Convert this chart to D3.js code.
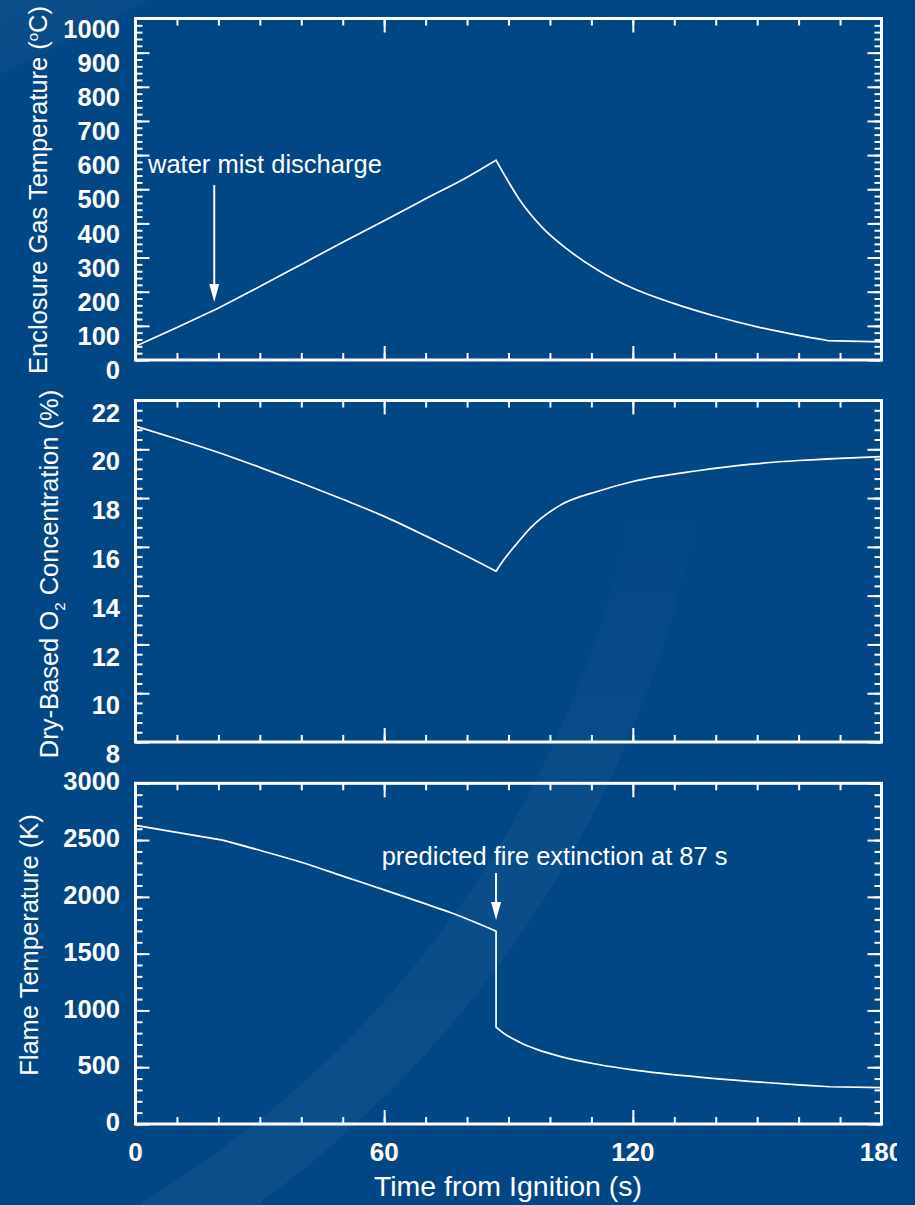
<!DOCTYPE html>
<html>
<head>
<meta charset="utf-8">
<script src="https://cdn.jsdelivr.net/npm/d3@7"></script>
<style>
  html, body { margin: 0; padding: 0; background: #024785; }
  svg { display: block; }
  text { font-family: "Liberation Sans", Arial, Helvetica, sans-serif; fill: #fff; }
</style>
</head>
<body>
<svg id="chart" width="915" height="1205"></svg>
<script>
// ---- Time axis (s) ----
const timeDomain = [0, 180];
const timeLabels = [0, 60, 120, 180];
const timeMinorTicks = d3.range(0, 181, 10);

// ---- Enclosure gas temperature (°C) ----
const gasTime = [0, 10, 20, 30, 40, 50, 60, 70, 80, 87, 89.6, 92.8, 98, 104, 112, 120, 130, 140, 150, 160, 167, 180];
const gasTemp = [40, 95, 152, 215, 280, 345, 408, 472, 535, 585, 530, 467, 390, 326, 260, 210, 165, 128, 97, 72, 57, 53];
const gasCorners = [2, 9, 20];          // indices where the curve changes abruptly
const gasTickLabels = [0, 100, 200, 300, 400, 500, 600, 700, 800, 900, 1000];

// ---- Dry-based O2 concentration (%) ----
const o2Time = [0, 10, 20, 30, 40, 50, 60, 70, 76, 87, 89, 91.6, 95.2, 102.4, 112, 120, 136, 148, 160, 170, 180];
const o2Conc = [20.95, 20.42, 19.87, 19.26, 18.62, 17.95, 17.25, 16.45, 15.95, 15.0, 15.5, 16.05, 16.76, 17.7, 18.3, 18.68, 19.13, 19.38, 19.54, 19.63, 19.7];
const o2Corners = [9];
const o2TickLabels = [8, 10, 12, 14, 16, 18, 20, 22];

// ---- Flame temperature (K) ----
const flameTime = [0, 21, 30, 40, 50, 60, 70, 76, 87, 87, 89, 92.8, 97, 102.4, 112, 120, 136, 148, 160, 167.5, 180];
const flameTemp = [2630, 2500, 2410, 2305, 2183, 2062, 1938, 1862, 1698, 853, 795, 718, 655, 596, 522, 477, 413, 376, 345, 328, 320];
const flameCorners = [1, 8, 9, 19];
const flameTickLabels = [0, 500, 1000, 1500, 2000, 2500, 3000];

// ---- Annotations ----
const mistTime = 19;
const mistText = "water mist discharge";
const extinctionTime = 87;
const extinctionText = "predicted fire extinction at " + extinctionTime + " s";

const svg = d3.select("#chart");
const W = 915, H = 1205;
const left = 135.5, right = 881.5;

const defs = svg.append("defs");
defs.append("clipPath").attr("id", "page-clip")
  .append("rect").attr("x", 0).attr("y", 0).attr("width", 897).attr("height", H);

// swoosh fades out towards the top of the page
const fade = defs.append("linearGradient").attr("id", "swoosh-fade")
  .attr("gradientUnits", "userSpaceOnUse")
  .attr("x1", 0).attr("y1", 1205).attr("x2", 0).attr("y2", 500);
fade.append("stop").attr("offset", 0).attr("stop-color", "#fff").attr("stop-opacity", 0.04);
fade.append("stop").attr("offset", 0.6).attr("stop-color", "#fff").attr("stop-opacity", 0.03);
fade.append("stop").attr("offset", 1).attr("stop-color", "#fff").attr("stop-opacity", 0);

const corner = defs.append("linearGradient").attr("id", "corner-fade")
  .attr("x1", 0).attr("y1", 0).attr("x2", 1).attr("y2", 1);
corner.append("stop").attr("offset", 0).attr("stop-color", "#fff").attr("stop-opacity", 0.04);
corner.append("stop").attr("offset", 1).attr("stop-color", "#fff").attr("stop-opacity", 0);

// background and faint decorative sheen
svg.append("rect").attr("width", W).attr("height", H).attr("fill", "#024785");
svg.append("path")
  .attr("d", "M0,0 L150,0 L0,75 Z")
  .attr("fill", "url(#corner-fade)");
svg.append("circle")
  .attr("cx", -400).attr("cy", 300).attr("r", 1085)
  .attr("fill", "none")
  .attr("stroke", "url(#swoosh-fade)").attr("stroke-width", 66);

const x = d3.scaleLinear().domain(timeDomain).range([left, right]);

// smooth piecewise curve: monotone between corners, sharp at corners
function piecewisePath(xs, ys, corners, y) {
  const pts = d3.zip(xs, ys);
  const cuts = [0, ...corners, pts.length - 1];
  const line = d3.line().x(d => x(d[0])).y(d => y(d[1])).curve(d3.curveMonotoneX);
  let d = "";
  for (let i = 0; i < cuts.length - 1; i++) {
    const seg = pts.slice(cuts[i], cuts[i + 1] + 1);
    let s = line(seg);
    if (i > 0) s = "L" + s.slice(1);
    d += s;
  }
  return d;
}

function panel(cfg) {
  const y = d3.scaleLinear().domain(cfg.domain).range([cfg.bottom, cfg.top]);
  const g = svg.append("g");

  const minor = d3.range(cfg.domain[0], cfg.domain[1] + 1e-9, cfg.minorStep);
  const major = cfg.labels;

  const styleAxis = sel => {
    sel.select(".domain").remove();
    sel.selectAll("line").attr("stroke", "#fff").attr("stroke-width", 2);
    sel.selectAll("text").remove();
  };

  // inward-pointing ticks on all four sides
  g.append("g").attr("transform", `translate(${left},0)`)
    .call(d3.axisLeft(y).tickValues(minor).tickSize(-7).tickFormat("")).call(styleAxis);
  g.append("g").attr("transform", `translate(${left},0)`)
    .call(d3.axisLeft(y).tickValues(major).tickSize(-14).tickFormat("")).call(styleAxis);
  g.append("g").attr("transform", `translate(${right},0)`)
    .call(d3.axisRight(y).tickValues(minor).tickSize(-7).tickFormat("")).call(styleAxis);
  g.append("g").attr("transform", `translate(${right},0)`)
    .call(d3.axisRight(y).tickValues(major).tickSize(-14).tickFormat("")).call(styleAxis);

  g.append("g").attr("transform", `translate(0,${cfg.bottom})`)
    .call(d3.axisBottom(x).tickValues(timeMinorTicks).tickSize(-7).tickFormat("")).call(styleAxis);
  g.append("g").attr("transform", `translate(0,${cfg.bottom})`)
    .call(d3.axisBottom(x).tickValues(timeLabels).tickSize(-14).tickFormat("")).call(styleAxis);
  g.append("g").attr("transform", `translate(0,${cfg.top})`)
    .call(d3.axisTop(x).tickValues(timeMinorTicks).tickSize(-7).tickFormat("")).call(styleAxis);
  g.append("g").attr("transform", `translate(0,${cfg.top})`)
    .call(d3.axisTop(x).tickValues(timeLabels).tickSize(-14).tickFormat("")).call(styleAxis);

  // frame
  g.append("rect")
    .attr("x", left).attr("y", cfg.top)
    .attr("width", right - left).attr("height", cfg.bottom - cfg.top)
    .attr("fill", "none").attr("stroke", "#fff").attr("stroke-width", 3);

  // tick labels
  g.append("g").selectAll("text").data(major).join("text")
    .attr("x", 120)
    .attr("y", d => y(d) + cfg.labelShift)
    .attr("dy", "0.36em")
    .attr("text-anchor", "end")
    .attr("font-size", 25.5).attr("font-weight", "bold")
    .text(d => d);

  // axis title
  const title = g.append("text")
    .attr("transform", `translate(${cfg.titleX},${cfg.titleY}) rotate(-90)`)
    .attr("text-anchor", "middle")
    .attr("font-size", 25.5);
  cfg.title(title);

  // data curve
  g.append("path")
    .attr("d", piecewisePath(cfg.xs, cfg.ys, cfg.corners, y))
    .attr("fill", "none").attr("stroke", "#fff").attr("stroke-width", 1.7)
    .attr("stroke-linejoin", "miter");

  return y;
}

panel({
  domain: [0, 1000], top: 18.5, bottom: 360, minorStep: 20,
  labels: gasTickLabels, labelShift: 10,
  xs: gasTime, ys: gasTemp, corners: gasCorners,
  titleX: 47, titleY: 190,
  title: t => {
    t.append("tspan").text("Enclosure Gas Temperature (");
    t.append("tspan").attr("font-size", 15).attr("dy", -9).text("o");
    t.append("tspan").attr("dy", 9).text("C)");
  }
});

panel({
  domain: [8, 22], top: 400.5, bottom: 742, minorStep: 0.4,
  labels: o2TickLabels, labelShift: 12,
  xs: o2Time, ys: o2Conc, corners: o2Corners,
  titleX: 58, titleY: 574,
  title: t => {
    t.append("tspan").text("Dry-Based O");
    t.append("tspan").attr("font-size", 15).attr("dy", 7).text("2");
    t.append("tspan").attr("dy", -7).text(" Concentration (%)");
  }
});

panel({
  domain: [0, 3000], top: 783.3, bottom: 1124, minorStep: 100,
  labels: flameTickLabels, labelShift: -2,
  xs: flameTime, ys: flameTemp, corners: flameCorners,
  titleX: 38, titleY: 945,
  title: t => t.text("Flame Temperature (K)")
});

// time labels along the bottom
svg.append("g").attr("clip-path", "url(#page-clip)")
  .selectAll("text").data(timeLabels).join("text")
  .attr("x", d => x(d)).attr("y", 1152).attr("dy", "0.36em")
  .attr("text-anchor", "middle")
  .attr("font-size", 26).attr("font-weight", "bold")
  .text(d => d);

svg.append("text")
  .attr("x", 508).attr("y", 1196)
  .attr("text-anchor", "middle")
  .attr("font-size", 28.5)
  .text("Time from Ignition (s)");

// annotation arrows
function arrow(xPos, y1, y2) {
  const g = svg.append("g");
  g.append("line").attr("x1", xPos).attr("x2", xPos).attr("y1", y1).attr("y2", y2 - 14)
    .attr("stroke", "#fff").attr("stroke-width", 2);
  g.append("path")
    .attr("d", `M${xPos - 5},${y2 - 18} L${xPos + 5},${y2 - 18} L${xPos},${y2} Z`)
    .attr("fill", "#fff");
}

arrow(x(mistTime), 185, 302);
svg.append("text").attr("x", 148).attr("y", 173)
  .attr("font-size", 25.5).text(mistText);

arrow(x(extinctionTime), 873, 920);
svg.append("text").attr("x", 381.7).attr("y", 865)
  .attr("font-size", 25.5).text(extinctionText);
</script>
</body>
</html>
